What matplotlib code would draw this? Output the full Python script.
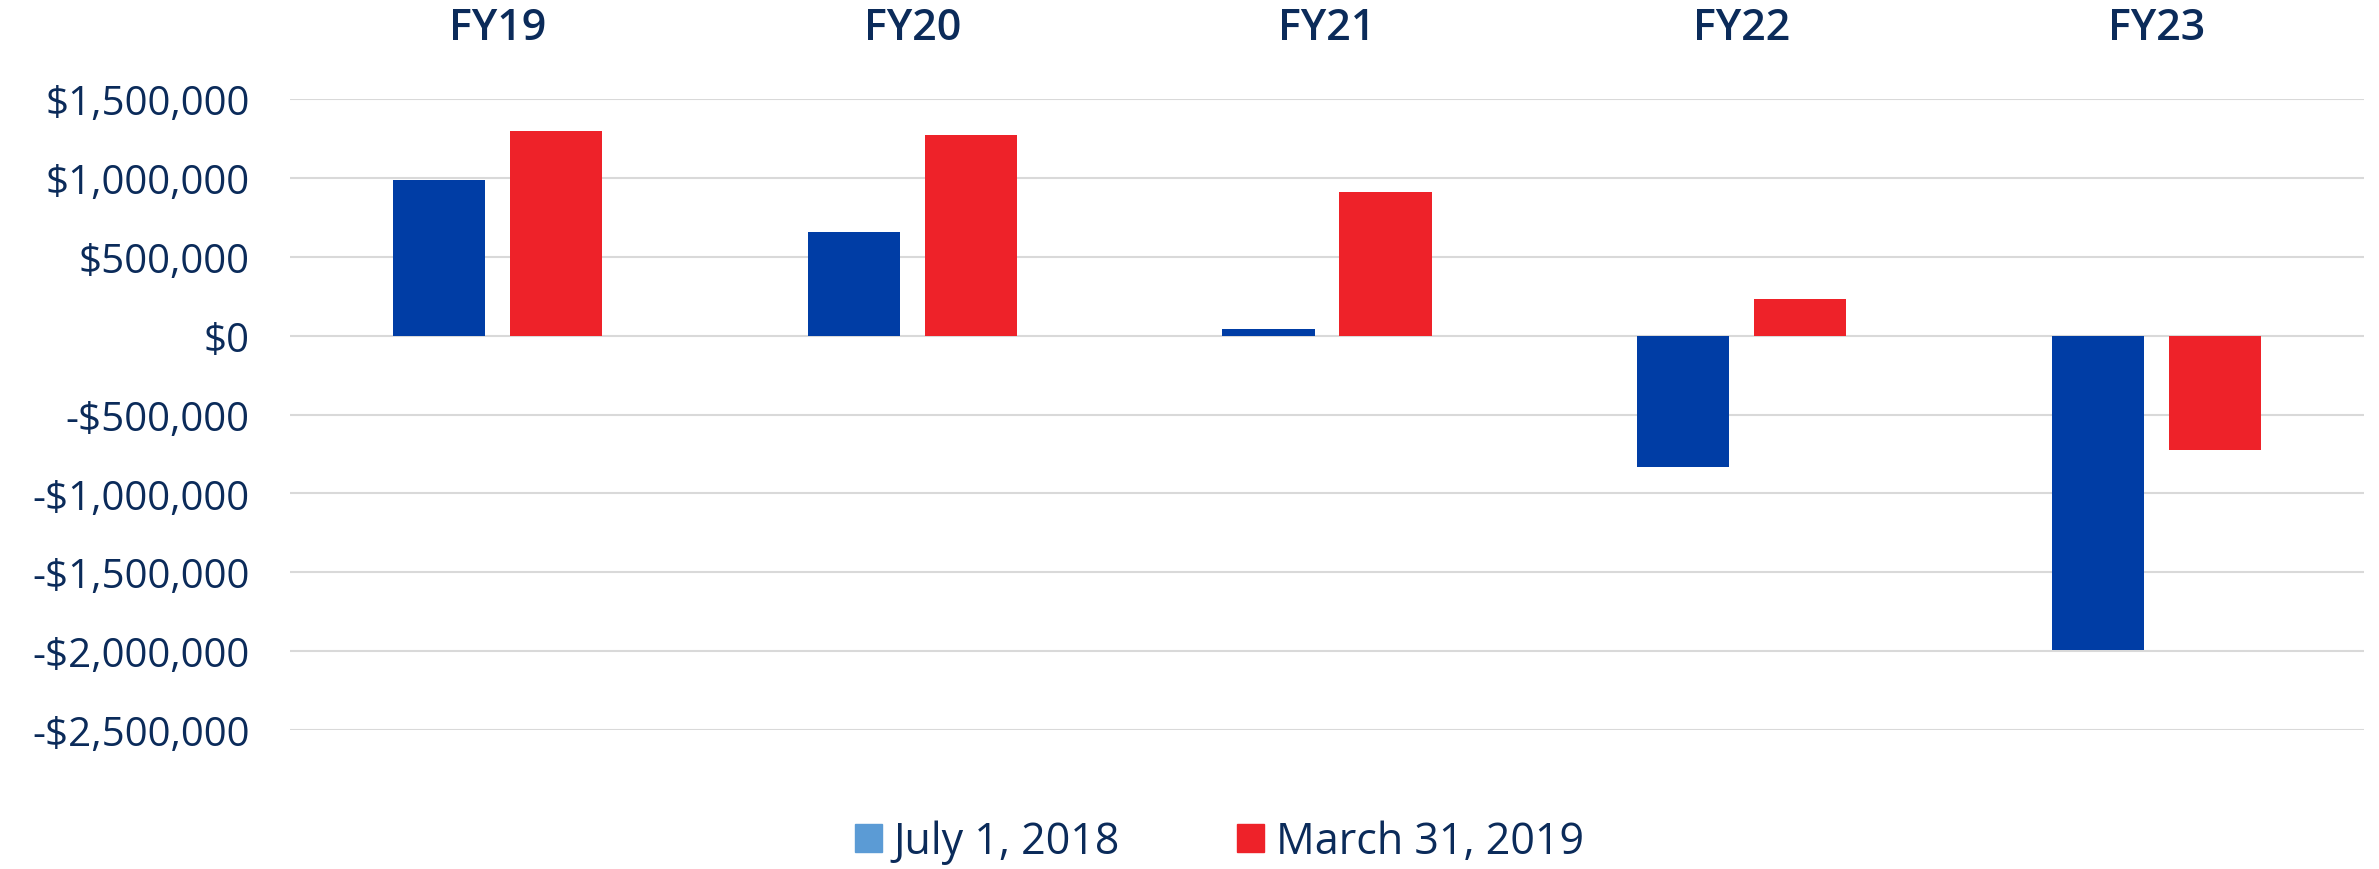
import matplotlib
matplotlib.use('Agg')
import numpy as np
from matplotlib import pyplot as plt
from matplotlib.patches import Patch
from matplotlib.ticker import FuncFormatter

# data
categories = ['FY19', 'FY20', 'FY21', 'FY22', 'FY23']
july_2018 = [985000, 660000, 45000, -830000, -1990000]
march_2019 = [1300000, 1270000, 910000, 235000, -725000]
series_names = ['July 1, 2018', 'March 31, 2019']

text_col = '#0b2b5a'
blue = '#003da5'
red = '#ee2229'
legend_blue = '#5b9bd5'

plt.rcParams['font.family'] = ['Open Sans', 'DejaVu Sans']

fig = plt.figure(figsize=(23.79, 8.70), dpi=100)
ax = fig.add_axes([0.1219, 0.1598, 0.9937 - 0.1219, 0.885 - 0.1598])

x = np.arange(len(categories))
w = 0.222
off = 0.141
ax.bar(x - off, july_2018, width=w, color=blue, zorder=3)
ax.bar(x + off, march_2019, width=w, color=red, zorder=3)

ax.set_xlim(-0.5, len(categories) - 0.5)
ax.set_ylim(-2500000, 1500000)
ax.set_yticks(np.arange(-2500000, 1500001, 500000))

def money(v, pos):
    v = int(round(v))
    if v < 0:
        return '-${:,}'.format(-v)
    return '${:,}'.format(v)

ax.yaxis.set_major_formatter(FuncFormatter(money))
ax.grid(axis='y', color='#d9d9d9', linewidth=1.5, zorder=0)
for s in ax.spines.values():
    s.set_visible(False)

ax.tick_params(axis='y', length=0, pad=29, labelsize=29, labelcolor=text_col)

# category labels sit on top of the plot
ax.xaxis.tick_top()
ax.set_xticks(x)
ax.set_xticklabels(categories, fontweight='semibold')
ax.tick_params(axis='x', length=0, pad=36, labelsize=31, labelcolor=text_col)

handles = [Patch(color=legend_blue), Patch(color=red)]
fig.legend(handles, series_names, loc='center', bbox_to_anchor=(0.5125, 0.031),
           ncol=2, frameon=False, fontsize=31, labelcolor=text_col,
           handlelength=0.63, handleheight=0.63, handletextpad=0.28,
           columnspacing=2.7)

fig.savefig('out.png', dpi=100)
